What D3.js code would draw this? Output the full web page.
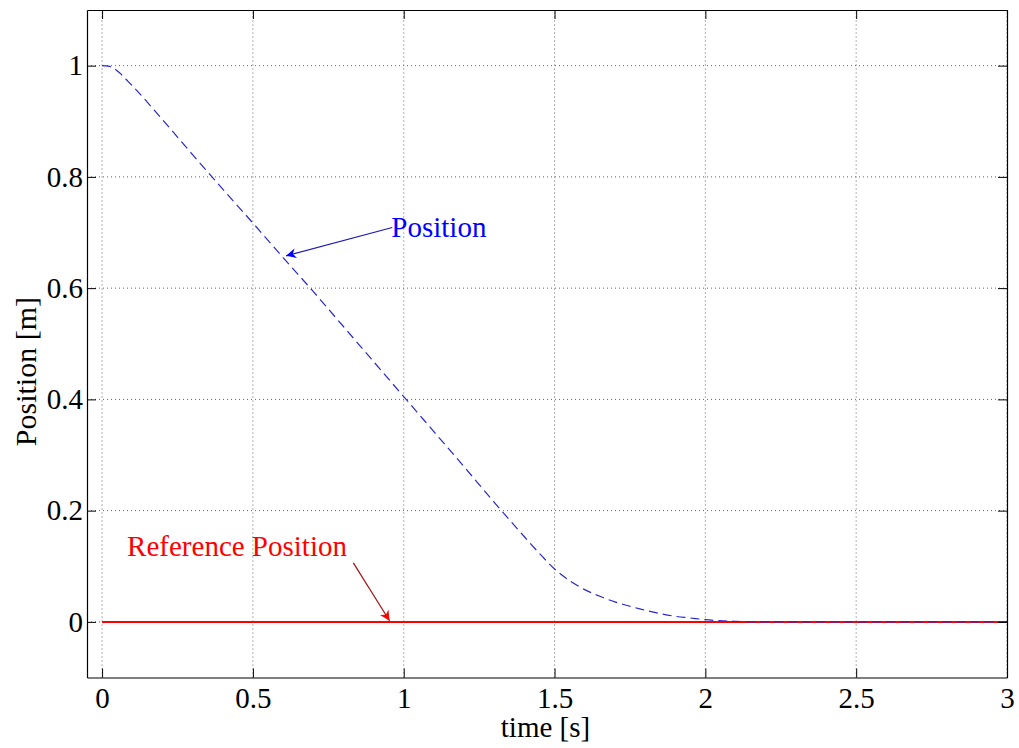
<!DOCTYPE html>
<html>
<head>
<meta charset="utf-8">
<script src="https://cdn.jsdelivr.net/npm/d3@7"></script>
<style>
    body { margin: 0; background: #fff; }
    svg { display: block; font-family: "Liberation Serif", "Times New Roman", serif; }
    .tick text { font-size: 29px; fill: #000; }
</style>
</head>
<body>
<div id="chart"></div>
<script>
var timeVals = [0, 0.02, 0.04, 0.06, 0.08, 0.1, 0.2, 0.3, 0.4, 0.5, 0.6, 0.7, 0.8, 0.9, 1.0,
    1.1, 1.2, 1.3, 1.4, 1.45, 1.5, 1.55, 1.6, 1.65, 1.7, 1.75, 1.8, 1.85, 1.9, 1.95, 2.0,
    2.1, 2.2, 2.5, 3.0];
var positionVals = [1, 0.999, 0.995, 0.986, 0.975, 0.964, 0.903, 0.84, 0.778, 0.717, 0.655,
    0.594, 0.531, 0.468, 0.405, 0.342, 0.279, 0.215, 0.153, 0.123, 0.095, 0.074, 0.058,
    0.046, 0.036, 0.028, 0.021, 0.015, 0.010, 0.007, 0.004, 0.001, 0, 0, 0];
var refTime = [0, 3];
var refVals = [0, 0];

var xTicks = [0, 0.5, 1, 1.5, 2, 2.5, 3];
var yTicks = [0, 0.2, 0.4, 0.6, 0.8, 1];
var xDomain = [-0.05, 3];
var yDomain = [-0.1, 1.1];

// annotations: [label, textX, textY, arrowFromX, arrowFromY, arrowToX, arrowToY]
var posNote = ["Position", 0.959, 0.692, 0.962, 0.709, 0.61, 0.658];
var refNote = ["Reference Position", 0.083, 0.119, 0.833, 0.106, 0.953, 0.002];

var width = 1019, height = 748;
var margin = {top: 10, right: 12, bottom: 70.5, left: 87};

var svg = d3.select("#chart").append("svg")
    .attr("width", width)
    .attr("height", height);

var xScale = d3.scaleLinear().domain(xDomain).range([margin.left, width - margin.right]);
var yScale = d3.scaleLinear().domain(yDomain).range([height - margin.bottom, margin.top]);

var fmt = d3.format("");

// grid
var grid = svg.append("g").attr("class", "grid");
grid.selectAll(".gx").data(xTicks).join("line")
    .attr("x1", d => xScale(d)).attr("x2", d => xScale(d))
    .attr("y1", yScale.range()[0]).attr("y2", yScale.range()[1])
    .attr("stroke", "#666").attr("stroke-width", 1).attr("stroke-dasharray", "1,3");
grid.selectAll(".gy").data(yTicks).join("line")
    .attr("y1", d => yScale(d)).attr("y2", d => yScale(d))
    .attr("x1", xScale.range()[0]).attr("x2", xScale.range()[1])
    .attr("stroke", "#666").attr("stroke-width", 1).attr("stroke-dasharray", "1,3");

// lines
var line = d3.line()
    .x(d => xScale(d[0]))
    .y(d => yScale(d[1]))
    .curve(d3.curveMonotoneX);

svg.append("path")
    .datum(d3.zip(refTime, refVals))
    .attr("d", line)
    .attr("fill", "none")
    .attr("stroke", "#ff0000")
    .attr("stroke-width", 2);

svg.append("path")
    .datum(d3.zip(timeVals, positionVals))
    .attr("d", line)
    .attr("fill", "none")
    .attr("stroke", "#2828cc")
    .attr("stroke-width", 1.2)
    .attr("stroke-dasharray", "9,5");

// axes (ticks point inward, box on all sides)
function drawAxis(axis, translate, showLabels) {
    var g = svg.append("g")
        .attr("transform", translate)
        .call(axis);
    g.select(".domain").attr("stroke", "#000").attr("stroke-width", 1.2);
    g.selectAll(".tick line").attr("stroke", "#000");
    if (!showLabels) g.selectAll(".tick text").remove();
    return g;
}

drawAxis(d3.axisBottom(xScale).tickValues(xTicks).tickFormat(fmt).tickSizeInner(-9).tickSizeOuter(0).tickPadding(10),
    `translate(0,${yScale.range()[0]})`, true);
drawAxis(d3.axisTop(xScale).tickValues(xTicks).tickSizeInner(-9).tickSizeOuter(0),
    `translate(0,${yScale.range()[1]})`, false);
drawAxis(d3.axisLeft(yScale).tickValues(yTicks).tickFormat(fmt).tickSizeInner(-9).tickSizeOuter(0).tickPadding(4),
    `translate(${xScale.range()[0]},0)`, true);
drawAxis(d3.axisRight(yScale).tickValues(yTicks).tickSizeInner(-9).tickSizeOuter(0),
    `translate(${xScale.range()[1]},0)`, false);

svg.selectAll(".tick text").attr("font-family", "Liberation Serif").attr("font-size", 29);

// axis labels
svg.append("text")
    .attr("x", xScale(1.47)).attr("y", 737)
    .attr("text-anchor", "middle")
    .attr("font-size", 29)
    .text("time [s]");

svg.append("text")
    .attr("transform", `translate(36,${yScale(0.45)}) rotate(-90)`)
    .attr("text-anchor", "middle")
    .attr("font-size", 30)
    .text("Position [m]");

// annotations
var defs = svg.append("defs");
function marker(id, color) {
    defs.append("marker")
        .attr("id", id)
        .attr("viewBox", "0 0 10 10")
        .attr("refX", 10).attr("refY", 5)
        .attr("markerWidth", 12).attr("markerHeight", 10)
        .attr("markerUnits", "userSpaceOnUse")
        .attr("orient", "auto")
        .append("path")
        .attr("d", "M0,0 L10,5 L0,10 L3,5 Z")
        .attr("fill", color);
}
marker("headBlue", "#0000ff");
marker("headRed", "#ff0000");

function annotate(note, textColor, lineColor, head) {
    svg.append("line")
        .attr("x1", xScale(note[3])).attr("y1", yScale(note[4]))
        .attr("x2", xScale(note[5])).attr("y2", yScale(note[6]))
        .attr("stroke", lineColor).attr("stroke-width", 1.2)
        .attr("marker-end", `url(#${head})`);
    svg.append("text")
        .attr("x", xScale(note[1])).attr("y", yScale(note[2]))
        .attr("font-size", 29)
        .attr("fill", textColor)
        .text(note[0]);
}
annotate(posNote, "#0000ff", "#1a1ab0", "headBlue");
annotate(refNote, "#ff0000", "#a01010", "headRed");
</script>
</body>
</html>
